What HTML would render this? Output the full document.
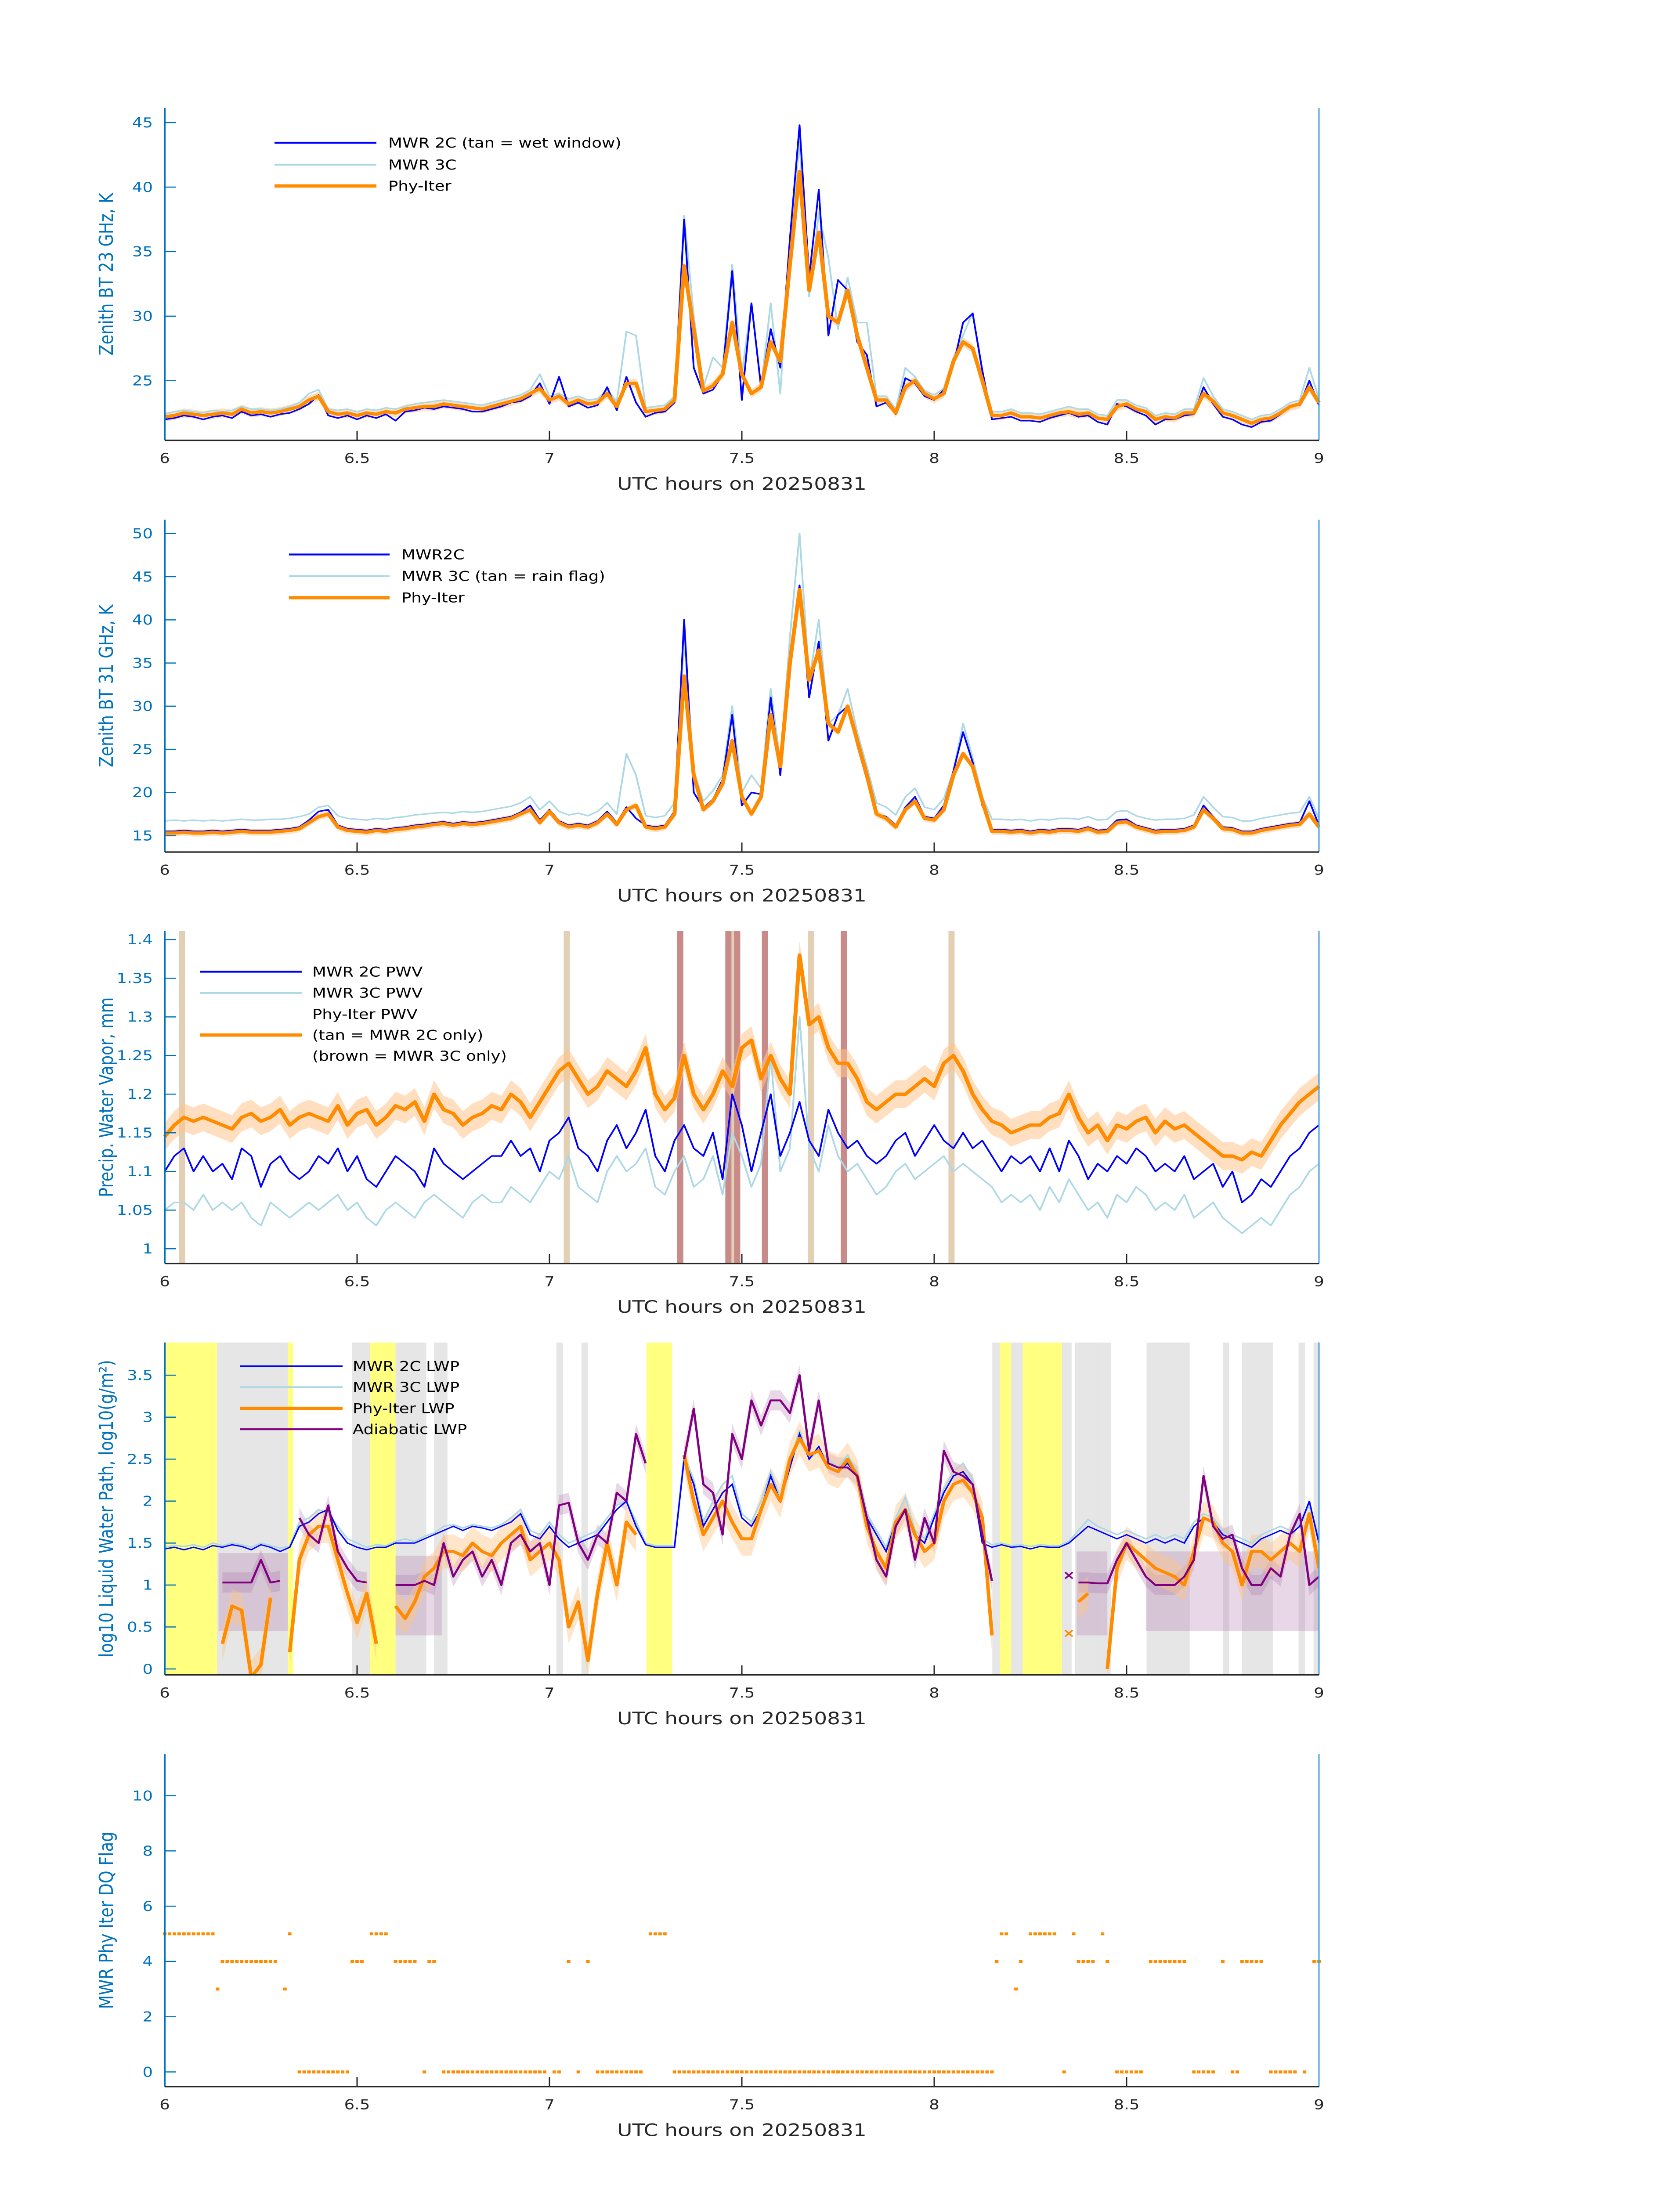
<!DOCTYPE html>
<html><head><meta charset="utf-8"><style>
html,body{margin:0;padding:0;background:#fff;width:100%;height:100%;overflow:hidden;}
svg{display:block;position:absolute;left:0;top:0;width:100vw;height:100vh;font-family:"DejaVu Sans","Liberation Sans",sans-serif;}
</style></head><body>
<svg id="fig" xmlns="http://www.w3.org/2000/svg" viewBox="0 0 3825 6000" preserveAspectRatio="none"></svg>
<script>
// ---------- data ----------
const tStart = 6, tStep = 0.025;
const bt23Phy = [22.2,22.3,22.5,22.4,22.3,22.4,22.5,22.4,22.8,22.5,22.6,22.5,22.6,22.8,23.0,23.5,23.8,22.6,22.4,22.5,22.3,22.5,22.4,22.6,22.5,22.8,22.9,23.0,23.0,23.2,23.1,23.0,22.9,22.8,23.0,23.2,23.4,23.6,24.0,24.4,
23.5,23.8,23.2,23.5,23.2,23.3,24.0,23.0,24.8,24.8,22.6,22.7,22.8,23.5,33.9,29.0,24.2,24.6,25.5,29.5,25.5,24.0,24.5,28.0,26.5,34.0,41.2,32.0,36.5,30.0,29.5,32.0,28.5,26.0,23.5,23.5,22.5,24.5,25.0,24.0,
23.6,24.0,26.5,28.0,27.5,25.0,22.3,22.3,22.5,22.2,22.2,22.1,22.3,22.5,22.6,22.4,22.5,22.1,22.0,23.0,23.2,22.8,22.6,22.0,22.2,22.1,22.5,22.5,24.0,23.4,22.5,22.3,22.0,21.7,22.0,22.1,22.5,23.0,23.2,24.5,23.3];
const bt23Mwr2c = [22.0,22.1,22.3,22.2,22.0,22.2,22.3,22.1,22.6,22.3,22.4,22.2,22.4,22.5,22.8,23.2,23.9,22.3,22.1,22.3,22.0,22.3,22.1,22.4,21.9,22.6,22.7,22.9,22.8,23.0,22.9,22.8,22.6,22.6,22.8,23.0,23.3,23.4,23.8,24.8,
23.2,25.3,23.0,23.3,22.9,23.1,24.5,22.7,25.3,23.3,22.2,22.5,22.6,23.3,37.5,26.0,24.0,24.3,25.5,33.5,23.5,31.0,24.5,29.0,26.0,36.0,44.8,33.0,39.8,28.5,32.8,32.0,28.0,27.0,23.0,23.3,22.4,25.2,24.8,23.8,
23.5,24.3,26.2,29.5,30.2,25.8,22.0,22.1,22.2,21.9,21.9,21.8,22.1,22.3,22.5,22.2,22.3,21.8,21.6,23.2,23.0,22.6,22.3,21.6,22.0,22.0,22.3,22.4,24.5,23.2,22.2,22.0,21.6,21.4,21.8,21.9,22.4,23.0,23.1,25.0,23.1];
const bt23Mwr3c = [22.4,22.6,22.7,22.6,22.5,22.7,22.6,22.7,23.0,22.8,22.8,22.7,22.8,23.0,23.3,24.0,24.3,22.8,22.7,22.8,22.6,22.8,22.7,22.9,22.8,23.0,23.2,23.3,23.4,23.5,23.4,23.3,23.2,23.1,23.3,23.5,23.7,23.9,24.3,25.5,
23.8,24.0,23.6,23.8,23.5,23.6,24.3,23.4,28.8,28.5,22.9,23.0,23.1,23.8,37.8,30.0,24.5,26.8,26.0,34.0,25.5,31.0,24.5,31.0,24.0,36.0,43.5,31.5,38.0,34.5,29.0,33.0,29.5,29.5,23.8,23.8,22.8,26.0,25.3,24.2,
23.9,24.4,26.8,28.5,30.3,25.5,22.6,22.6,22.8,22.5,22.5,22.4,22.6,22.8,23.0,22.8,22.8,22.4,22.3,23.5,23.5,23.1,22.9,22.3,22.5,22.4,22.8,22.8,25.2,23.8,22.8,22.6,22.3,22.0,22.3,22.4,22.8,23.3,23.5,26.0,23.6];

const bt31Phy = [15.3,15.3,15.4,15.3,15.3,15.4,15.3,15.4,15.5,15.4,15.4,15.4,15.5,15.6,15.8,16.5,17.2,17.5,16.0,15.6,15.5,15.4,15.6,15.5,15.7,15.8,16.0,16.1,16.3,16.4,16.2,16.4,16.3,16.4,16.6,16.8,17.0,17.5,18.0,16.5,
17.8,16.5,16.0,16.2,16.0,16.5,17.5,16.3,18.0,18.5,16.0,15.8,16.0,17.5,33.5,22.0,18.0,19.0,21.0,26.0,19.5,17.5,19.5,29.0,23.0,35.0,43.5,33.0,36.5,28.0,27.0,30.0,26.0,22.0,17.5,17.0,16.0,18.0,19.0,17.0,
16.8,18.0,22.0,24.5,23.0,19.0,15.5,15.5,15.4,15.5,15.3,15.5,15.4,15.6,15.6,15.5,15.8,15.4,15.5,16.5,16.6,16.0,15.7,15.4,15.5,15.5,15.6,16.0,18.0,17.0,15.8,15.7,15.3,15.3,15.6,15.8,16.0,16.2,16.3,17.5,16.0];
const bt31Mwr2c = [15.5,15.5,15.6,15.5,15.5,15.6,15.5,15.6,15.7,15.6,15.6,15.6,15.7,15.8,16.0,16.8,17.8,18.0,16.2,15.8,15.7,15.6,15.8,15.7,15.9,16.0,16.2,16.3,16.5,16.6,16.4,16.6,16.5,16.6,16.8,17.0,17.2,17.7,18.5,16.8,
18.0,16.7,16.2,16.4,16.2,16.7,17.8,16.5,18.3,17.0,16.2,16.0,16.2,17.8,40.0,20.0,18.2,19.2,21.5,29.0,18.5,20.0,19.8,31.0,22.0,36.0,44.0,31.0,37.5,26.0,29.0,30.0,25.5,21.5,17.5,17.2,16.2,18.3,19.5,17.2,
17.0,18.5,22.5,27.0,23.5,18.5,15.7,15.7,15.6,15.7,15.5,15.7,15.6,15.8,15.8,15.7,16.0,15.6,15.7,16.8,16.9,16.2,15.9,15.6,15.7,15.7,15.8,16.2,18.5,17.2,16.0,15.9,15.5,15.5,15.8,16.0,16.2,16.4,16.5,19.0,16.2];
const bt31Mwr3c = [16.7,16.8,16.7,16.8,16.7,16.8,16.7,16.8,16.9,16.8,16.8,16.9,16.9,17.0,17.2,17.5,18.3,18.5,17.3,17.0,16.9,16.8,17.0,16.9,17.1,17.2,17.4,17.5,17.6,17.7,17.6,17.8,17.7,17.8,18.0,18.2,18.4,18.8,19.5,18.0,
19.0,17.8,17.4,17.6,17.3,17.8,18.8,17.5,24.5,22.0,17.3,17.1,17.3,18.8,38.0,22.5,19.0,20.2,22.0,30.0,20.0,22.0,20.5,32.0,23.5,38.0,50.0,33.0,40.0,28.0,29.0,32.0,27.0,23.0,18.8,18.3,17.4,19.5,20.5,18.3,
18.0,19.3,22.5,28.0,24.0,19.5,16.9,16.9,16.8,16.9,16.7,16.9,16.8,17.0,17.0,16.9,17.2,16.8,16.9,17.8,17.9,17.3,17.0,16.8,16.9,16.9,17.0,17.4,19.5,18.3,17.2,17.1,16.7,16.7,17.0,17.2,17.4,17.6,17.7,19.5,17.0];

const pwvPhy = [1.145,1.16,1.17,1.165,1.17,1.165,1.16,1.155,1.17,1.175,1.165,1.17,1.18,1.16,1.17,1.175,1.17,1.165,1.185,1.16,1.175,1.18,1.16,1.17,1.185,1.18,1.19,1.165,1.2,1.18,1.175,1.16,1.17,1.175,1.185,1.18,1.2,1.19,1.17,1.19,
1.21,1.23,1.24,1.22,1.2,1.21,1.23,1.22,1.21,1.23,1.26,1.2,1.18,1.195,1.25,1.2,1.18,1.2,1.23,1.21,1.26,1.27,1.22,1.25,1.22,1.2,1.38,1.29,1.3,1.26,1.24,1.24,1.22,1.19,1.18,1.19,1.2,1.2,1.21,1.22,
1.21,1.24,1.25,1.23,1.2,1.18,1.165,1.16,1.15,1.155,1.16,1.16,1.17,1.175,1.2,1.17,1.15,1.16,1.14,1.16,1.155,1.165,1.17,1.15,1.165,1.155,1.16,1.15,1.14,1.13,1.12,1.12,1.115,1.125,1.12,1.14,1.16,1.175,1.19,1.2,1.21];
const pwvMwr2c = [1.1,1.12,1.13,1.1,1.12,1.1,1.11,1.09,1.13,1.12,1.08,1.11,1.12,1.1,1.09,1.1,1.12,1.11,1.13,1.1,1.12,1.09,1.08,1.1,1.12,1.11,1.1,1.08,1.13,1.11,1.1,1.09,1.1,1.11,1.12,1.12,1.14,1.12,1.13,1.1,
1.14,1.15,1.17,1.13,1.12,1.1,1.14,1.16,1.13,1.15,1.18,1.12,1.1,1.14,1.16,1.13,1.12,1.15,1.09,1.2,1.16,1.1,1.15,1.2,1.12,1.15,1.19,1.14,1.12,1.18,1.15,1.13,1.14,1.12,1.11,1.12,1.14,1.15,1.12,1.14,
1.16,1.14,1.13,1.15,1.13,1.14,1.12,1.1,1.12,1.11,1.12,1.1,1.13,1.1,1.14,1.12,1.09,1.11,1.1,1.12,1.11,1.13,1.12,1.1,1.11,1.1,1.12,1.09,1.1,1.11,1.08,1.1,1.06,1.07,1.09,1.08,1.1,1.12,1.13,1.15,1.16];
const pwvMwr3c = [1.05,1.06,1.06,1.05,1.07,1.05,1.06,1.05,1.06,1.04,1.03,1.06,1.05,1.04,1.05,1.06,1.05,1.06,1.07,1.05,1.06,1.04,1.03,1.05,1.06,1.05,1.04,1.06,1.07,1.06,1.05,1.04,1.06,1.07,1.06,1.06,1.08,1.07,1.06,1.08,
1.1,1.09,1.12,1.08,1.07,1.06,1.1,1.12,1.1,1.11,1.13,1.08,1.07,1.1,1.12,1.08,1.09,1.12,1.07,1.15,1.12,1.08,1.11,1.25,1.1,1.13,1.3,1.13,1.1,1.16,1.12,1.1,1.11,1.09,1.07,1.08,1.1,1.11,1.09,1.1,
1.11,1.12,1.1,1.11,1.1,1.09,1.08,1.06,1.07,1.06,1.07,1.05,1.08,1.06,1.09,1.07,1.05,1.06,1.04,1.07,1.06,1.08,1.07,1.05,1.06,1.05,1.07,1.04,1.05,1.06,1.04,1.03,1.02,1.03,1.04,1.03,1.05,1.07,1.08,1.1,1.11];
const pwvTanFlags = [6.045, 7.045, 7.48, 7.68, 8.045];
const pwvBrownFlags = [7.34, 7.465, 7.488, 7.56, 7.765];

const lwpMwr2c = [1.43,1.45,1.42,1.45,1.42,1.47,1.45,1.48,1.46,1.42,1.48,1.45,1.4,1.45,1.7,1.75,1.85,1.9,1.65,1.5,1.45,1.42,1.45,1.45,1.5,1.5,1.5,1.55,1.6,1.65,1.7,1.65,1.7,1.68,1.65,1.7,1.75,1.85,1.6,1.55,
1.7,1.55,1.45,1.5,1.55,1.6,1.75,1.9,2.0,1.7,1.48,1.45,1.45,1.45,2.5,2.2,1.7,1.9,2.1,2.2,1.8,1.7,1.9,2.3,2.0,2.4,2.8,2.5,2.65,2.4,2.35,2.45,2.3,1.8,1.6,1.4,1.75,1.9,1.6,1.5,
1.8,2.1,2.3,2.35,2.2,1.5,1.45,1.48,1.45,1.46,1.43,1.46,1.45,1.45,1.5,1.6,1.7,1.65,1.6,1.55,1.6,1.55,1.5,1.55,1.5,1.55,1.5,1.7,1.8,1.75,1.6,1.55,1.5,1.45,1.55,1.6,1.65,1.6,1.7,2.0,1.5];
const lwpMwr3c = [1.45,1.47,1.46,1.48,1.45,1.5,1.47,1.5,1.48,1.45,1.5,1.47,1.44,1.46,1.75,1.8,1.9,1.85,1.7,1.55,1.5,1.45,1.48,1.47,1.52,1.55,1.52,1.58,1.62,1.7,1.72,1.68,1.72,1.7,1.68,1.72,1.8,1.9,1.65,1.6,
1.75,1.6,1.5,1.55,1.6,1.65,1.8,1.95,2.0,1.75,1.5,1.47,1.47,1.47,2.55,2.25,1.75,2.0,2.2,2.3,1.85,1.75,2.0,2.35,2.05,2.45,2.85,2.5,2.6,2.5,2.4,2.55,2.35,1.85,1.65,1.45,1.8,2.05,1.65,1.55,
1.85,2.15,2.35,2.45,2.25,1.55,1.48,1.5,1.47,1.48,1.46,1.48,1.47,1.47,1.52,1.65,1.78,1.7,1.65,1.6,1.65,1.6,1.55,1.6,1.55,1.6,1.55,1.75,1.85,1.8,1.65,1.6,1.55,1.5,1.6,1.65,1.7,1.65,1.75,1.95,1.55];
const lwpPhy = [null,null,null,null,null,null,0.3,0.75,0.7,-0.1,0.05,0.85,null,0.2,1.3,1.6,1.7,1.7,1.3,0.9,0.55,0.9,0.3,null,0.75,0.6,0.8,1.1,1.2,1.4,1.4,1.35,1.5,1.4,1.35,1.5,1.6,1.7,1.3,1.4,
1.5,1.3,0.5,0.8,0.1,0.9,1.5,1.0,1.75,1.6,null,null,null,null,2.55,2.0,1.6,1.8,2.0,1.75,1.55,1.55,1.9,2.2,2.0,2.5,2.75,2.55,2.6,2.4,2.35,2.5,2.3,1.7,1.4,1.2,1.75,1.9,1.6,1.4,
1.5,2.0,2.2,2.25,2.1,1.8,0.4,null,null,null,null,null,null,null,null,0.8,0.9,null,0.0,1.2,1.5,1.4,1.3,1.2,1.15,1.1,1.0,1.4,1.8,1.75,1.5,1.4,1.0,1.4,1.4,1.3,1.4,1.5,1.4,1.85,1.2];
const lwpAdiabatic = [null,null,null,null,null,null,1.03,1.03,1.03,1.03,1.3,1.03,1.05,null,1.8,1.6,1.5,1.95,1.4,1.2,1.05,1.03,null,null,1.0,1.0,1.0,1.05,1.0,1.5,1.1,1.3,1.4,1.1,1.3,1.0,1.5,1.6,1.4,1.5,
1.0,1.95,1.98,1.5,1.3,1.6,1.5,2.1,2.0,2.8,2.45,null,null,null,2.5,3.1,2.2,2.1,1.6,2.8,2.5,3.2,2.9,3.2,3.2,3.05,3.5,2.6,3.2,2.45,2.4,2.4,2.3,1.8,1.3,1.1,1.7,1.9,1.3,1.8,
1.5,2.6,2.35,2.3,2.2,1.6,1.05,null,1.02,null,null,null,null,null,null,1.03,1.03,1.02,1.02,1.3,1.5,1.3,1.1,1.0,1.0,1.0,1.1,1.3,2.3,1.7,1.55,1.6,1.2,1.0,1.0,1.2,1.1,1.6,1.85,1.0,1.1];
const yellowStart = [6.0, 6.32, 6.534, 7.252, 8.171, 8.23];
const yellowEnd   = [6.136, 6.334, 6.6, 7.319, 8.2, 8.332];
const grayStart = [6.136, 6.487, 6.6, 6.70, 7.018, 7.083, 8.151, 8.2, 8.332, 8.366, 8.44, 8.552, 8.75, 8.8, 8.947, 8.986];
const grayEnd   = [6.32, 6.534, 6.68, 6.735, 7.035, 7.1, 8.171, 8.23, 8.357, 8.44, 8.46, 8.664, 8.767, 8.88, 8.964, 9.0];
const adiabaticBandStart = [6.14, 6.6, 8.37, 8.55];
const adiabaticBandEnd   = [6.32, 6.72, 8.45, 9.0];
const adiabaticBandLow   = [0.45, 0.4, 0.4, 0.45];
const adiabaticBandHigh  = [1.38, 1.35, 1.4, 1.4];
const markerTime = 8.35, markerAdiabatic = 1.12, markerPhy = 0.43;

const flagStep = 0.0125;
const flagSegStart = [6.0,6.1375,6.15,6.3125,6.325,6.35,6.4875,6.5375,6.6,6.675,6.6875,6.725,7.0125,7.05,7.075,7.1,7.125,7.2625,7.325,8.1625,8.175,8.2125,8.225,8.25,8.3375,8.3625,8.375,8.4375,8.45,8.475,8.5625,8.675,8.75,8.775,8.8,8.875,8.9625,8.9875];
const flagSegEnd   = [6.125,6.1375,6.2875,6.3125,6.325,6.475,6.5125,6.575,6.65,6.675,6.7,6.9875,7.025,7.05,7.075,7.1,7.2375,7.3,8.15,8.1625,8.1875,8.2125,8.225,8.3125,8.3375,8.3625,8.4125,8.4375,8.45,8.5375,8.65,8.725,8.75,8.7875,8.85,8.9375,8.9625,9.0];
const flagSegValue = [5,3,4,3,5,0,4,5,4,0,4,0,0,4,0,4,0,5,0,4,5,3,4,5,0,5,4,5,4,0,4,0,4,0,4,0,0,4];

const xTicks = [6, 6.5, 7, 7.5, 8, 8.5, 9];
const xTickLabels = ["6","6.5","7","7.5","8","8.5","9"];

// ---------- layout ----------
const NS = "http://www.w3.org/2000/svg";
const svg = document.getElementById("fig");
const L = 375, R = 3003, H = 908;
const tops = [295, 1420, 2544, 3668, 4793];
function mk(tag, attrs, parent){ const e=document.createElementNS(NS,tag); for(const k in attrs) e.setAttribute(k,attrs[k]); (parent||svg).appendChild(e); return e; }
const xs = t => L + (t-6)/3*(R-L);
function yScale(p, lo, hi){ return v => tops[p]+H - (v-lo)/(hi-lo)*H; }
function times(n){ const a=[]; for(let i=0;i<n;i++) a.push(tStart+i*tStep); return a; }
function linePath(vals, ys){ let d="", pen=false; const ts=times(vals.length);
  vals.forEach((v,i)=>{ if(v===null||v===undefined){pen=false;return;} d+=(pen?"L":"M")+xs(ts[i]).toFixed(1)+" "+ys(v).toFixed(1)+" "; pen=true; }); return d; }
function bandPath(vals, ys, dLo, dHi){ const ts=times(vals.length); let segs=[], cur=[];
  vals.forEach((v,i)=>{ if(v===null){ if(cur.length) segs.push(cur); cur=[]; } else cur.push([ts[i],v]); }); if(cur.length) segs.push(cur);
  let d=""; segs.forEach(s=>{ if(s.length<2) return; d+="M"+s.map(p=>xs(p[0]).toFixed(1)+" "+ys(p[1]+dHi).toFixed(1)).join(" L");
    d+=" L"+s.slice().reverse().map(p=>xs(p[0]).toFixed(1)+" "+ys(p[1]-dLo).toFixed(1)).join(" L")+" Z "; }); return d; }

function axes(p, ys, yticks, ylabels, ylabelText, name){
  const top=tops[p], bot=top+H;
  const g = mk("g",{});
  
  
  yticks.forEach((v,i)=>{
    const y=ys(v);
    const tk=mk("line",{x1:L,x2:L+26,y1:y,y2:y,stroke:"#0072BD","stroke-width":3},g);
    
    
    const tl=mk("text",{x:348,y:y+13,"text-anchor":"end","font-size":37,fill:"#0072BD"},g);
    tl.textContent=ylabels[i];
    
    
  });
  xTicks.forEach((t,i)=>{
    const x=xs(t);
    const tk=mk("line",{x1:x,x2:x,y1:bot,y2:bot-26,stroke:"#262626","stroke-width":3},g);
    
    
    const tl=mk("text",{x:x,y:bot+62,"text-anchor":"middle","font-size":37,fill:"#262626"},g);
    tl.textContent=xTickLabels[i];
    
    
  });
  const la=mk("line",{x1:L,x2:L,y1:top,y2:bot,stroke:"#0072BD","stroke-width":4},g);
  
  
  const ra=mk("line",{x1:R,x2:R,y1:top,y2:bot,stroke:"#4a9fd8","stroke-width":3},g);
  
  
  const ba=mk("line",{x1:L,x2:R,y1:bot,y2:bot,stroke:"#262626","stroke-width":4},g);
  
  
  const xl=mk("text",{x:(L+R)/2,y:bot+135,"text-anchor":"middle","font-size":47,fill:"#262626"},g);
  xl.textContent="UTC hours on 20250831";
  
  
  const cy=top+H/2;
  const yl=mk("text",{x:0,y:0,"text-anchor":"middle","font-size":44,fill:"#0072BD",transform:`translate(257 ${cy}) rotate(-90)`},g);
  yl.textContent=ylabelText;
  
  
}
function series(d, color, w, name, extra){
  const e=mk("path",Object.assign({d:d,fill:"none",stroke:color,"stroke-width":w,"stroke-linejoin":"round"},extra||{}));
  
  
  return e;
}
function band(d, color, op, name){
  const e=mk("path",{d:d,fill:color,"fill-opacity":op,stroke:"none"});
  
  
}
function legend(x0,x1,tx,rows){
  rows.forEach(r=>{
    if(r.color){
      const l=mk("line",{x1:x0,x2:x1,y1:r.y,y2:r.y,stroke:r.color,"stroke-width":r.w});
      
      
    }
    const t=mk("text",{x:tx,y:r.y+13,"font-size":37,fill:"#000"});
    t.textContent=r.text;
    
    
  });
}

// ---------- Panel 1 ----------
{ const ys=yScale(0,20.38,46.13);
  band(bandPath(bt23Phy,ys,0.35,0.35),"#ffcc99",0.6,"bt23-phy-uncertainty");
  series(linePath(bt23Mwr3c,ys),"#add8e6",4,"bt23-mwr3c-line");
  series(linePath(bt23Mwr2c,ys),"#0000ff",4,"bt23-mwr2c-line");
  series(linePath(bt23Phy,ys),"#ff8c00",9,"bt23-phy-line");
  axes(0,ys,[25,30,35,40,45],["25","30","35","40","45"],"Zenith BT 23 GHz, K","bt23");
  legend(625,857,884,[{y:390,color:"#0000ff",w:5,text:"MWR 2C (tan = wet window)"},{y:450,color:"#add8e6",w:5,text:"MWR 3C"},{y:508,color:"#ff8c00",w:9,text:"Phy-Iter"}]);
}
// ---------- Panel 2 ----------
{ const ys=yScale(1,13.1,51.6);
  band(bandPath(bt31Phy,ys,0.4,0.4),"#ffcc99",0.6,"bt31-phy-uncertainty");
  series(linePath(bt31Mwr3c,ys),"#add8e6",4,"bt31-mwr3c-line");
  series(linePath(bt31Mwr2c,ys),"#0000ff",4,"bt31-mwr2c-line");
  series(linePath(bt31Phy,ys),"#ff8c00",9,"bt31-phy-line");
  axes(1,ys,[15,20,25,30,35,40,45,50],["15","20","25","30","35","40","45","50"],"Zenith BT 31 GHz, K","bt31");
  legend(658,887,914,[{y:1515,color:"#0000ff",w:5,text:"MWR2C"},{y:1574,color:"#add8e6",w:5,text:"MWR 3C (tan = rain flag)"},{y:1633,color:"#ff8c00",w:9,text:"Phy-Iter"}]);
}
// ---------- Panel 3 ----------
{ const ys=yScale(2,0.981,1.411); const top=tops[2];
  pwvTanFlags.forEach(t=>{ const r=mk("rect",{x:xs(t)-7,y:top,width:14,height:H,fill:"#e3cfb4"});
      });
  pwvBrownFlags.forEach(t=>{ const r=mk("rect",{x:xs(t)-7,y:top,width:14,height:H,fill:"#c98a8a"});
      });
  band(bandPath(pwvPhy,ys,0.018,0.018),"#ffc58a",0.55,"pwv-phy-uncertainty");
  series(linePath(pwvMwr3c,ys),"#add8e6",4,"pwv-mwr3c-line");
  series(linePath(pwvMwr2c,ys),"#0000ff",4,"pwv-mwr2c-line");
  series(linePath(pwvPhy,ys),"#ff8c00",9,"pwv-phy-line");
  axes(2,ys,[1,1.05,1.1,1.15,1.2,1.25,1.3,1.35,1.4],["1","1.05","1.1","1.15","1.2","1.25","1.3","1.35","1.4"],"Precip. Water Vapor, mm","pwv");
  legend(455,688,711,[{y:2655,color:"#0000ff",w:5,text:"MWR 2C PWV"},{y:2713,color:"#add8e6",w:5,text:"MWR 3C PWV"},{y:2771,text:"Phy-Iter PWV"},{y:2828,color:"#ff8c00",w:9,text:"(tan = MWR 2C only)"},{y:2885,text:"(brown = MWR 3C only)"}]);
}
// ---------- Panel 4 ----------
{ const ys=yScale(3,-0.07,3.89); const top=tops[3];
  const clip=mk("clipPath",{id:"clip4"}); mk("rect",{x:L,y:top,width:R-L,height:H},clip);
  const g=mk("g",{"clip-path":"url(#clip4)"});
  
  
  grayStart.forEach((s,i)=>{ const r=mk("rect",{x:xs(s),y:top,width:xs(grayEnd[i])-xs(s),height:H,fill:"#e6e6e6"},g);
      });
  yellowStart.forEach((s,i)=>{ const r=mk("rect",{x:xs(s),y:top,width:xs(yellowEnd[i])-xs(s),height:H,fill:"#ffff80"},g);
      });
  adiabaticBandStart.forEach((s,i)=>{ const r=mk("rect",{x:xs(s),y:ys(adiabaticBandHigh[i]),width:xs(adiabaticBandEnd[i])-xs(s),height:ys(adiabaticBandLow[i])-ys(adiabaticBandHigh[i]),fill:"#b07ab0","fill-opacity":0.3},g);
      });
  const b1=mk("path",{d:bandPath(lwpAdiabatic,ys,0.12,0.12),fill:"#b07ab0","fill-opacity":0.3},g);
   
  const b2=mk("path",{d:bandPath(lwpPhy,ys,0.2,0.2),fill:"#ffc58a","fill-opacity":0.45},g);
   
  const s3=mk("path",{d:linePath(lwpMwr3c,ys),fill:"none",stroke:"#add8e6","stroke-width":4},g);
   
  const s2=mk("path",{d:linePath(lwpMwr2c,ys),fill:"none",stroke:"#0000ff","stroke-width":3.5},g);
   
  const s4=mk("path",{d:linePath(lwpPhy,ys),fill:"none",stroke:"#ff8c00","stroke-width":8,"stroke-linejoin":"round"},g);
   
  const s5=mk("path",{d:linePath(lwpAdiabatic,ys),fill:"none",stroke:"#800080","stroke-width":5,"stroke-linejoin":"round"},g);
   
  const m1=mk("text",{x:xs(markerTime),y:ys(markerAdiabatic)+12,"text-anchor":"middle","font-size":34,"font-weight":"bold",fill:"#800080"});
  m1.textContent="×";  
  const m2=mk("text",{x:xs(markerTime),y:ys(markerPhy)+12,"text-anchor":"middle","font-size":34,"font-weight":"bold",fill:"#ff8c00"});
  m2.textContent="×";  
  axes(3,ys,[0,0.5,1,1.5,2,2.5,3,3.5],["0","0.5","1","1.5","2","2.5","3","3.5"],"log10 Liquid Water Path, log10(g/m²)","lwp");
  legend(547,780,803,[{y:3733,color:"#0000ff",w:5,text:"MWR 2C LWP"},{y:3790,color:"#add8e6",w:5,text:"MWR 3C LWP"},{y:3848,color:"#ff8c00",w:9,text:"Phy-Iter LWP"},{y:3905,color:"#800080",w:5,text:"Adiabatic LWP"}]);
}
// ---------- Panel 5 ----------
{ const ys=yScale(4,-0.53,11.5);
  flagSegValue.forEach((v,k)=>{
    const n=Math.round((flagSegEnd[k]-flagSegStart[k])/flagStep);
    for(let j=0;j<=n;j++){
      const t=flagSegStart[k]+j*flagStep;
      const d=mk("rect",{x:xs(t)-4,y:ys(v)-4,width:8,height:8,fill:"#ff8c00"});
      
      
    }
  });
  axes(4,ys,[0,2,4,6,8,10],["0","2","4","6","8","10"],"MWR Phy Iter DQ Flag","dq");
}
</script>
</body></html>
